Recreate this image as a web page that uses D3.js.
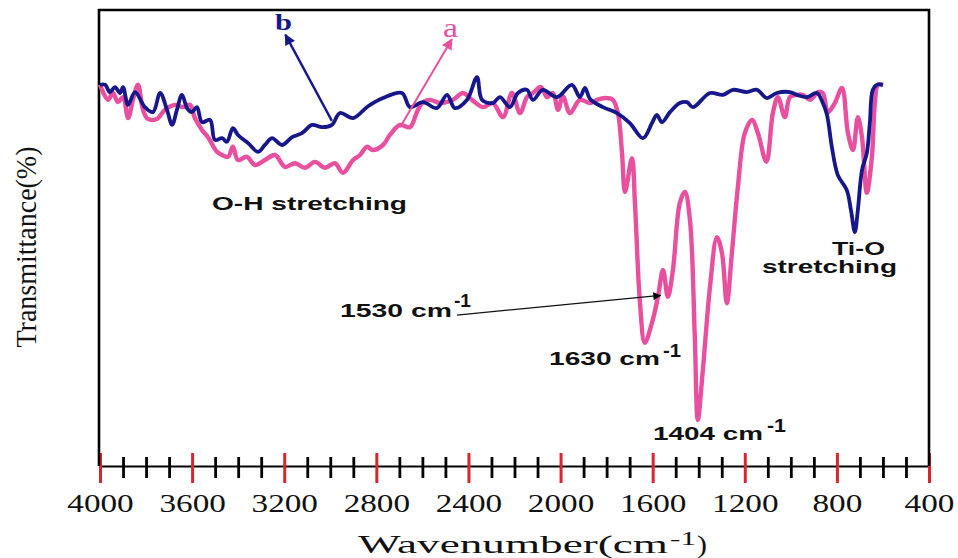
<!DOCTYPE html>
<html><head><meta charset="utf-8">
<script src="https://cdn.jsdelivr.net/npm/d3@7/dist/d3.min.js"></script>
<style>body{margin:0;background:#fff}svg{display:block}</style>
</head><body>
<svg id="c" width="958" height="558"></svg>
<script>
// ---- data (wavenumber cm^-1, transmittance %) ----
const waveA = [4000,3965,3944,3922,3900,3878,3857,3835,3813,3792,3753,3718,3674,3640,3609,3588,3557,3531,3492,3470,3444,3423,3401,3362,3327,3284,3240,3197,3153,3110,3066,3023,2980,2945,2901,2871,2841,2815,2771,2741,2697,2654,2624,2602,2567,2524,2467,2424,2385,2337,2294,2250,2211,2176,2146,2120,2085,2059,2033,2011,1990,1959,1916,1872,1842,1807,1773,1751,1733,1720,1690,1677,1655,1634,1603,1577,1555,1534,1512,1482,1460,1438,1417,1404,1382,1351,1321,1299,1278,1256,1230,1200,1169,1143,1106,1078,1056,1026,1004,974,948,917,882,861,839,809,778,752,730,709,691,670,648,635,622,600];
const transA = [83.6,80.3,81.8,79.8,80.9,76.3,80.3,83.6,78.1,76.1,76.1,78.1,79.2,78.7,79.2,76.3,73.7,72.1,68.9,68.2,67.8,70.0,67.1,67.8,66.0,67.1,68.2,65.6,66.4,65.4,66.7,65.4,66.4,64.3,67.1,68.2,70.0,69.3,70.4,72.6,74.8,74.3,77.6,79.6,80.3,79.6,80.3,81.8,80.3,78.7,79.6,76.5,81.8,77.4,80.9,81.8,83.1,80.9,81.8,78.1,81.1,77.4,80.3,79.6,80.3,80.7,80.3,77.4,68.6,60.1,67.5,57.7,35.7,27.0,31.4,37.1,43.0,37.1,43.0,57.7,60.1,53.9,28.3,10.1,21.1,39.3,50.2,46.7,35.7,46.7,61.2,73.0,75.9,73.0,66.7,77.4,80.9,76.5,80.9,81.4,81.4,80.3,82.0,81.8,77.6,79.6,82.9,73.0,69.3,76.5,72.1,59.9,67.8,79.6,83.6,83.6];

const waveB = [4000,3978,3957,3935,3913,3900,3878,3848,3805,3770,3739,3709,3687,3666,3644,3622,3601,3579,3557,3522,3501,3470,3449,3423,3401,3357,3314,3284,3253,3210,3166,3123,3079,3036,2993,2958,2901,2836,2771,2689,2654,2598,2537,2493,2459,2406,2363,2341,2294,2263,2220,2185,2146,2120,2077,2016,1951,1916,1894,1872,1816,1755,1699,1642,1603,1582,1560,1525,1482,1451,1425,1351,1295,1252,1191,1147,1104,1061,1004,974,930,887,861,843,822,796,757,739,722,709,691,670,657,644,626,600];
const transB = [83.6,83.6,82.0,83.1,81.8,83.1,79.2,82.0,78.7,77.6,81.8,78.1,74.8,78.1,81.4,78.5,77.6,78.7,75.4,75.9,71.5,71.9,71.1,74.1,72.6,70.8,68.9,70.4,71.9,70.4,72.1,73.0,74.8,74.3,74.8,77.4,76.3,78.9,80.7,81.8,78.7,79.8,78.5,81.4,78.5,80.3,85.3,80.3,79.6,80.9,78.7,81.8,82.5,80.3,82.5,80.9,83.6,80.9,82.9,80.5,78.7,77.4,75.2,71.9,75.2,77.0,75.4,77.6,79.6,79.8,78.7,81.8,81.4,82.5,82.0,82.5,80.7,81.8,82.0,81.4,80.9,81.8,79.6,77.0,70.0,63.8,60.5,56.1,51.3,56.1,64.9,68.6,75.2,82.5,83.6,83.6];

const majorTicks = [4000,3600,3200,2800,2400,2000,1600,1200,800,400];
const tickLabels = ["4000","3600","3200","2800","2400","2000","1600","1200","800","400"];
const minorTicks = [3900,3800,3700,3500,3400,3300,3100,3000,2900,2700,2600,2500,2300,2200,2100,1900,1800,1700,1500,1400,1300,1100,1000,900,700,600,500];

// annotation anchors in data units
const arrowB = [[2993,75.7],[3195,94.6]];
const arrowA = [[2697,74.3],[2472,93.6]];
const arrow1530 = [[2450,33.1],[1566,37.4]];

// ---- drawing ----
const svg = d3.select("#c");
const x = d3.scaleLinear().domain([4000,400]).range([100,929]);
const y = d3.scaleLinear().domain([0,100]).range([466,10]);
const pink = "#e8509f", navy = "#17178c";
const serif = "'Liberation Serif','Times New Roman',serif";
const sans = "'Liberation Sans',Arial,sans-serif";

const defs = svg.append("defs");
function marker(id, color, w, h){
  defs.append("marker").attr("id",id).attr("viewBox","0 -5 10 10")
    .attr("refX",9).attr("refY",0).attr("markerUnits","userSpaceOnUse")
    .attr("markerWidth",w).attr("markerHeight",h).attr("orient","auto")
    .append("path").attr("d","M0,-5L10,0L0,5Z").attr("fill",color);
}
marker("mB", navy, 13, 11);
marker("mA", pink, 13, 11);
marker("mK", "#000", 12, 8);

// minor ticks
const minorAxis = d3.axisBottom(x).tickValues(minorTicks).tickFormat("").tickSizeOuter(0);
const gMin = svg.append("g").attr("transform","translate(0,466)").call(minorAxis);
gMin.select(".domain").remove();
gMin.selectAll(".tick line").attr("y1",-9).attr("y2",12).attr("stroke","#000").attr("stroke-width",2.8);

// major ticks + labels
const majorAxis = d3.axisBottom(x).tickValues(majorTicks).tickFormat((d,i)=>tickLabels[i]).tickSizeOuter(0);
const gMaj = svg.append("g").attr("transform","translate(0,466)").call(majorAxis);
gMaj.select(".domain").attr("stroke","#000").attr("stroke-width",2.2);
gMaj.selectAll(".tick line").attr("y1",-13).attr("y2",17).attr("stroke","#d8262e").attr("stroke-width",3);
gMaj.selectAll(".tick text").attr("y",46).attr("dy",0)
  .attr("font-family",serif).attr("font-size",26).attr("fill","#111")
  .attr("textLength",(d,i)=>tickLabels[i].length*16.6).attr("lengthAdjust","spacingAndGlyphs");

// frame
svg.append("path").attr("d",`M${x(4000)-1},${y(0)} V${y(100)} H${x(400)} V${y(0)}`)
  .attr("fill","none").attr("stroke","#000").attr("stroke-width",2.6);

// curves
const line = d3.line().x(d=>x(d[0])).y(d=>y(d[1])).curve(d3.curveCatmullRom.alpha(0.5));
const dataA = waveA.map((w,i)=>[w,transA[i]]);
const dataB = waveB.map((w,i)=>[w,transB[i]]);
svg.append("path").datum(dataA).attr("d",line).attr("fill","none").attr("stroke",pink)
  .attr("stroke-width",4.4).attr("stroke-linejoin","round");
svg.append("path").datum(dataB).attr("d",line).attr("fill","none").attr("stroke",navy)
  .attr("stroke-width",3.8).attr("stroke-linejoin","round");

// arrows
function arrow(pts, color, w, m){
  svg.append("line").attr("x1",x(pts[0][0])).attr("y1",y(pts[0][1]))
    .attr("x2",x(pts[1][0])).attr("y2",y(pts[1][1]))
    .attr("stroke",color).attr("stroke-width",w).attr("marker-end",`url(#${m})`);
}
arrow(arrowB, navy, 2.4, "mB");
arrow(arrowA, pink, 2, "mA");
arrow(arrow1530, "#111", 1.3, "mK");

// text helper
function txt(s, px, py, opts){
  const t = svg.append("text").attr("x",px).attr("y",py).text(s)
    .attr("font-family",opts.family||sans).attr("font-size",opts.size||19)
    .attr("font-weight",opts.weight||"bold").attr("fill",opts.fill||"#111");
  if(opts.len) t.attr("textLength",opts.len).attr("lengthAdjust","spacingAndGlyphs");
  if(opts.anchor) t.attr("text-anchor",opts.anchor);
  return t;
}
txt("b", 275, 30, {family:serif, size:24, weight:"bold", fill:navy, len:17});
txt("a", 443, 37, {family:serif, size:27, weight:"normal", fill:pink, len:15});
txt("O-H stretching", 212, 210, {len:195});
txt("Ti-O", 832, 255, {len:53});
txt("stretching", 762, 273, {len:135});
txt("1530 cm", 340, 317, {len:112});
txt("-1", 454, 307, {len:17});
txt("1630 cm", 549, 365, {len:111});
txt("-1", 663, 357, {len:18});
txt("1404 cm", 653, 440, {len:110});
txt("-1", 767, 432, {len:19});

// axis titles
txt("Wavenumber(cm", 358, 553, {family:serif, size:26, weight:"normal", len:310});
txt("-1", 670, 545, {family:serif, size:19, weight:"normal", len:26});
txt(")", 697, 553, {family:serif, size:26, weight:"normal", len:10});
svg.append("text").attr("transform","translate(36,247) rotate(-90)")
  .attr("text-anchor","middle").attr("font-family",serif).attr("font-size",29)
  .attr("fill","#111").attr("textLength",201).attr("lengthAdjust","spacingAndGlyphs")
  .text("Transmittance(%)");
</script>
</body></html>
